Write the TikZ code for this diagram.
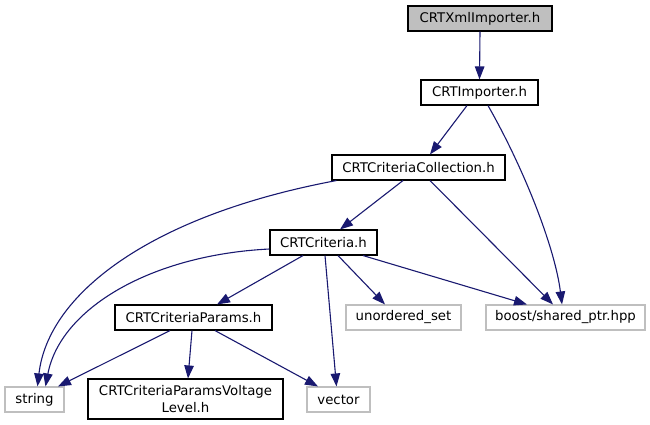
\documentclass[tikz,border=0pt]{standalone}
\usepackage{fontspec}
\setmainfont{DejaVu Sans}
\usetikzlibrary{arrows.meta}
\definecolor{edgec}{HTML}{191970}
\definecolor{grayb}{HTML}{BFBFBF}
\begin{document}
\begin{tikzpicture}[x=1pt,y=-1pt,
  box/.style={draw=black, line width=1.1pt, minimum height=25pt, inner sep=0pt, align=center, font=\fontsize{13.3}{17}\selectfont},
  ext/.style={box, draw=grayb},
  edge/.style={draw=edgec, line width=1.1pt, -{Triangle[length=13pt,width=9.5pt]}}]
\useasboundingbox (0,0) rectangle (650,425);
\node[box, fill=grayb, minimum width=144pt] (xml) at (480,18.5) {CRTXmlImporter.h};
\node[box, minimum width=117pt] (imp) at (479.5,92.5) {CRTImporter.h};
\node[box, minimum width=173pt] (coll) at (418.5,167.5) {CRTCriteriaCollection.h};
\node[box, minimum width=107pt] (crit) at (323.5,242.5) {CRTCriteria.h};
\node[box, minimum width=157pt] (params) at (193.5,317.5) {CRTCriteriaParams.h};
\node[ext, minimum width=115pt] (uset) at (403.5,317.5) {unordered\_set};
\node[ext, minimum width=159pt] (boost) at (565.5,317.5) {boost/shared\_ptr.hpp};
\node[ext, minimum width=59pt] (string) at (34.5,399.5) {string};
\node[box, minimum width=195pt, minimum height=40pt] (volt) at (185.5,399) {CRTCriteriaParamsVoltage\\Level.h};
\node[ext, minimum width=63pt] (vector) at (338.5,399.5) {vector};

\draw[edge] (xml.south) -- (imp.north);
\draw[edge] ([xshift=-12.5pt]imp.south) -- ([xshift=11.5pt]coll.north);
\draw[edge] ([xshift=8.5pt]imp.south) .. controls +(37,65) and +(-7,-56) .. ([xshift=-3.5pt]boost.north);
\draw[edge] ([xshift=5pt]coll.south west) .. controls +(-187,35) and +(10.5,-92) .. ([xshift=3pt]string.north);
\draw[edge] ([xshift=-15.5pt]coll.south) -- ([xshift=16.5pt]crit.north);
\draw[edge] ([xshift=11.5pt]coll.south) -- ([xshift=-12.5pt]boost.north);
\draw[edge] ([yshift=-6.5pt]crit.west) .. controls +(-120,6) and +(14.5,-77) .. ([xshift=11pt]string.north);
\draw[edge] ([xshift=-20.5pt]crit.south) -- ([xshift=23.5pt]params.north);
\draw[edge] ([xshift=1.5pt]crit.south) -- ([xshift=-2pt]vector.north);
\draw[edge] ([xshift=14.5pt]crit.south) -- ([xshift=-18.5pt]uset.north);
\draw[edge] ([xshift=39.5pt]crit.south) -- ([xshift=-38.5pt]boost.north);
\draw[edge] ([xshift=-23.5pt]params.south) -- ([xshift=23.5pt]string.north);
\draw[edge] ([xshift=-1.5pt]params.south) -- ([xshift=2.5pt]volt.north);
\draw[edge] ([xshift=21.5pt]params.south) -- ([xshift=-20.5pt]vector.north);
\end{tikzpicture}
\end{document}
